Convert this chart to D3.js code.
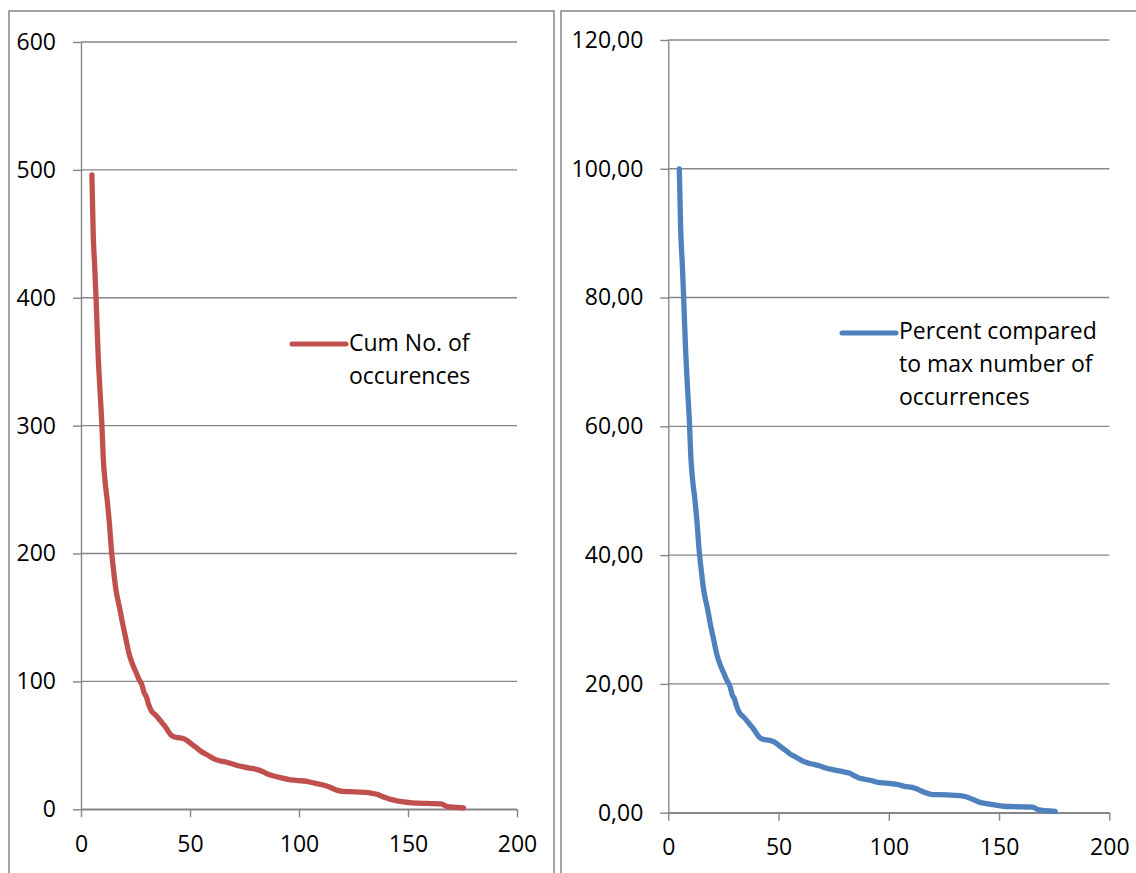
<!DOCTYPE html>
<html>
<head>
<meta charset="utf-8">
<script src="https://cdn.jsdelivr.net/npm/d3@7"></script>
<style>
  html, body { margin: 0; padding: 0; background: #ffffff; }
  svg { display: block; }
  text { font-family: "Open Sans", "Liberation Sans", sans-serif; fill: #000; }
</style>
</head>
<body>
<svg id="chart" width="1136" height="873"></svg>
<script>
// Rank position of each item (shared by both panels)
const rank = [
  5, 5.6, 6.3, 6.9, 7.9, 8.7, 9.6, 10.2, 11, 12, 13, 14, 15, 16, 17, 18,
  19, 20.5, 22, 23.5, 25, 26.5, 28, 29, 30, 31, 32.3, 34, 35.6, 37, 38.9, 40, 41.3,
  43, 44.6, 46.5, 48, 50, 51.5, 53.5, 55.3, 58, 61, 63.5, 66, 68.5, 71.7, 74.5,
  77.4, 80, 82.4, 84.5, 86.5, 89, 92, 95, 98.8, 103.7, 107, 111.9, 114.5, 117.6,
  120, 123.4, 129.9, 133, 135.7, 138.5, 141.4, 144.5, 148, 152, 156.2, 161, 165.2,
  166.5, 168, 171, 173, 175.5
];

// Cumulative number of occurrences
const cumOccurrences = [
  496, 450, 424, 400, 354, 328, 300, 275, 257, 242, 224, 202, 186, 172, 163, 155,
  146, 134, 122, 114, 108, 102, 97, 91, 88, 82, 77, 74, 71, 68, 64, 61, 58,
  56.5, 56, 55.5, 54.5, 52, 50, 47.5, 45, 42.5, 39.5, 38, 37.2, 36, 34.3, 33.2,
  32.2, 31.4, 30.2, 28.5, 27, 25.8, 24.6, 23.4, 22.6, 21.8, 20.5, 18.6, 17, 14.8,
  14, 13.8, 13.3, 12.7, 11.7, 9.8, 8, 6.8, 5.8, 5, 4.7, 4.5, 4.2,
  3.3, 2.2, 1.6, 1.4, 1.1
];

// Percent compared to the maximum number of occurrences
const percentOfMax = [
  100, 90.7, 85.5, 80.6, 71.4, 66.1, 60.5, 55.4, 51.8, 48.8, 45.2, 40.7, 37.5, 34.7, 32.9, 31.3,
  29.4, 27.0, 24.6, 23.0, 21.8, 20.6, 19.6, 18.3, 17.7, 16.5, 15.5, 14.9, 14.3, 13.7, 12.9, 12.3, 11.7,
  11.4, 11.3, 11.2, 11.0, 10.5, 10.1, 9.6, 9.1, 8.6, 8.0, 7.7, 7.5, 7.3, 6.9, 6.7,
  6.5, 6.3, 6.1, 5.7, 5.4, 5.2, 5.0, 4.7, 4.6, 4.4, 4.1, 3.8, 3.4, 3.0,
  2.8, 2.8, 2.7, 2.6, 2.4, 2.0, 1.6, 1.4, 1.2, 1.0, 0.95, 0.9, 0.85,
  0.67, 0.44, 0.32, 0.28, 0.22
];

// Tick values
const xTicks = [0, 50, 100, 150, 200];
const yTicksCount = [0, 100, 200, 300, 400, 500, 600];
const yTicksPercent = [0, 20, 40, 60, 80, 100, 120];

// Legend labels
const legendCount = ["Cum No. of", "occurences"];
const legendPercent = ["Percent compared", "to max number of", "occurrences"];

const svg = d3.select("#chart");
const gridColor = "#868686";
const commaFormat = d3.formatLocale({ decimal: ",", thousands: ".", grouping: [3], currency: ["", ""] }).format(".2f");

function drawPanel(opt) {
  const g = svg.append("g");

  // Chart frame (open at the bottom / right where it is cut off)
  g.append("rect")
    .attr("x", opt.frame.x).attr("y", opt.frame.y)
    .attr("width", opt.frame.w).attr("height", opt.frame.h)
    .attr("fill", "none").attr("stroke", "#8c8c8c").attr("stroke-width", 1.6);

  const x = d3.scaleLinear().domain([0, 200]).range([opt.left, opt.right]);
  const y = d3.scaleLinear().domain([0, opt.yMax]).range([opt.bottom, opt.top]);

  // Horizontal gridlines
  g.append("g").selectAll("line").data(opt.yTicks).join("line")
    .attr("x1", opt.left).attr("x2", opt.right)
    .attr("y1", d => y(d)).attr("y2", d => y(d))
    .attr("stroke", gridColor).attr("stroke-width", 1.4);

  // Y axis
  const yAxis = g.append("g")
    .attr("transform", `translate(${opt.left},0)`)
    .call(d3.axisLeft(y).tickValues(opt.yTicks).tickSize(8).tickSizeOuter(0)
      .tickPadding(17).tickFormat(opt.yFormat));

  // X axis
  const xAxis = g.append("g")
    .attr("transform", `translate(0,${opt.bottom})`)
    .call(d3.axisBottom(x).tickValues(xTicks).tickSize(8).tickSizeOuter(0)
      .tickPadding(18).tickFormat(d3.format("d")));

  [yAxis, xAxis].forEach(a => {
    a.selectAll("path.domain").attr("stroke", gridColor).attr("stroke-width", 1.4);
    a.selectAll(".tick line").attr("stroke", gridColor).attr("stroke-width", 1.4);
    a.selectAll(".tick text")
      .attr("font-family", "'Open Sans', 'Liberation Sans', sans-serif")
      .attr("font-size", 23).attr("fill", "#000");
  });

  // Data line
  const line = d3.line()
    .x((d, i) => x(rank[i]))
    .y(d => y(d))
    .curve(d3.curveMonotoneX);

  g.append("path")
    .datum(opt.values)
    .attr("d", line)
    .attr("fill", "none")
    .attr("stroke", opt.color)
    .attr("stroke-width", 5.3)
    .attr("stroke-linecap", "round")
    .attr("stroke-linejoin", "round");

  // Legend
  const lg = g.append("g");
  lg.append("line")
    .attr("x1", opt.legend.x1).attr("x2", opt.legend.x2)
    .attr("y1", opt.legend.y).attr("y2", opt.legend.y)
    .attr("stroke", opt.color).attr("stroke-width", 5)
    .attr("stroke-linecap", "round");
  lg.selectAll("text").data(opt.legendText).join("text")
    .attr("x", opt.legend.tx)
    .attr("y", (d, i) => opt.legend.ty + i * 33)
    .attr("font-size", 23)
    .text(d => d);
}

drawPanel({
  frame: { x: 9, y: 11, w: 545, h: 900 },
  left: 81, right: 517, top: 42, bottom: 809.3,
  yMax: 600, yTicks: yTicksCount, yFormat: d3.format("d"),
  values: cumOccurrences, color: "#C0504D",
  legend: { x1: 292, x2: 346, y: 344, tx: 349, ty: 351 },
  legendText: legendCount
});

drawPanel({
  frame: { x: 561, y: 11, w: 700, h: 900 },
  left: 668.3, right: 1109.3, top: 40, bottom: 812.7,
  yMax: 120, yTicks: yTicksPercent, yFormat: commaFormat,
  values: percentOfMax, color: "#4F81BD",
  legend: { x1: 842, x2: 896, y: 333, tx: 899, ty: 339 },
  legendText: legendPercent
});
</script>
</body>
</html>
